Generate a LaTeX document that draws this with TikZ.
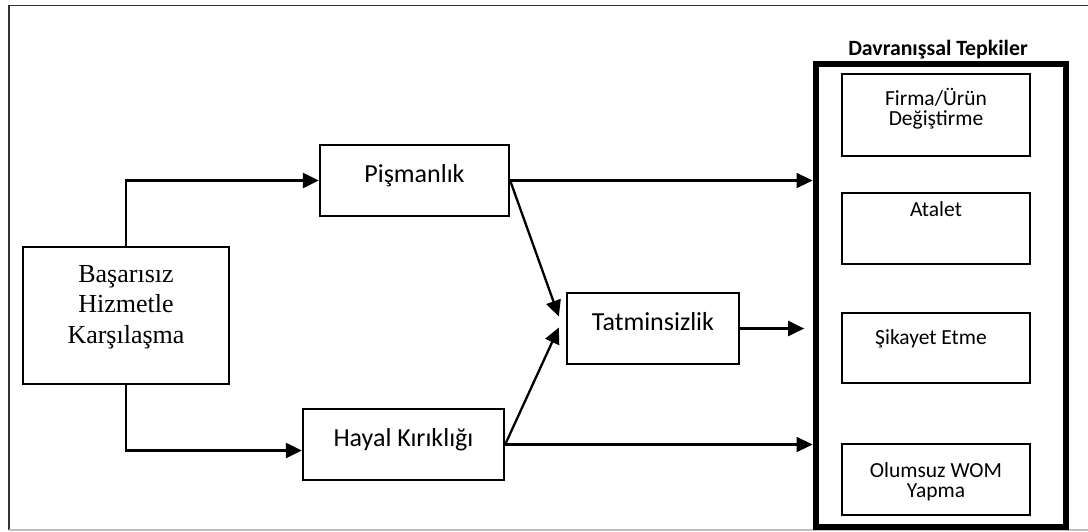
\documentclass[tikz,border=0pt]{standalone}
\usepackage{fontspec}
\setmainfont{Carlito}
\newfontfamily\serifface{Liberation Serif}
\usetikzlibrary{arrows.meta,calc}
\begin{document}
\begin{tikzpicture}[x=1pt,y=-1pt,
  box/.style={draw,line width=2.3pt,inner sep=0pt},
  bigbox/.style={draw,line width=6pt,inner sep=0pt},
  txt/.style={anchor=base,inner sep=0pt,align=center,font=\fontsize{26}{30}\selectfont},
  sertxt/.style={anchor=base,inner sep=0pt,align=center,font=\serifface\fontsize{26}{30.5}\selectfont},
  smalltxt/.style={anchor=base,inner sep=0pt,align=center,font=\fontsize{21.5}{19.5}\selectfont},
  arr/.style={line width=2.3pt,-{Triangle[length=16pt,width=15pt]}}]
\useasboundingbox (0,0) rectangle (1088,531);

% outer frame
\draw[line width=1.5pt,black!80] (9,530) -- (9,5.5) -- (1088,5.5);
\draw[line width=1.5pt,black!25] (9,530) -- (1088,530);

% left-hand boxes
\node[box,minimum width=206,minimum height=137] (bas) at (126,315.5) {};
\node[box,minimum width=189,minimum height=71] (pis) at (414.5,180.5) {};
\node[box,minimum width=201,minimum height=71] (hay) at (403.5,444.5) {};
\node[box,minimum width=172,minimum height=71] (tat) at (653,328.5) {};

% multi-line labels are anchored at the baseline of their last line
\node[sertxt] (bast) at (126,343) {Başarısız\\Hizmetle\\Karşılaşma};
\node[txt] (pist) at (414.5,182) {Pişmanlık};
\node[txt] (hayt) at (403.5,446) {Hayal Kırıklığı};
\node[txt] (tatt) at (653,330) {Tatminsizlik};

% behavioural responses
\node[bigbox,minimum width=250,minimum height=463] (dav) at (940.5,295) {};
\node[anchor=base,inner sep=0pt,font=\fontsize{21.8}{24}\selectfont\bfseries] (davt) at (938,55) {Davranışsal Tepkiler};

\node[box,minimum width=188,minimum height=82] (fir) at (936,115) {};
\node[box,minimum width=188,minimum height=71] (ata) at (936,228.5) {};
\node[box,minimum width=188,minimum height=70] (sik) at (936,348) {};
\node[box,minimum width=188,minimum height=71] (olu) at (936,479.5) {};

\node[smalltxt] (firt) at (936,125) {Firma/Ürün\\Değiştirme};
\node[smalltxt] (atat) at (936,216) {Atalet};
\node[smalltxt] (sikt) at (931,344) {Şikayet Etme};
\node[smalltxt] (olut) at (936,497) {Olumsuz WOM\\Yapma};

% connectors
\draw[arr] (bas.north) |- (pis.west);
\draw[arr] (bas.south) |- ($(hay.west)+(0,6)$);
\draw[arr] (pis.east) -- (pis.east -| dav.west);
\draw[arr] (pis.east) -- ($(tat.west)+(-7,-12)$);
\draw[arr] (hay.east) -- ($(tat.west)+(-7,-1)$);
\draw[arr] (hay.east) -- (hay.east -| dav.west);
\draw[arr] (tat.east) -- ($(tat.east)+(64,0)$);
\end{tikzpicture}
\end{document}
